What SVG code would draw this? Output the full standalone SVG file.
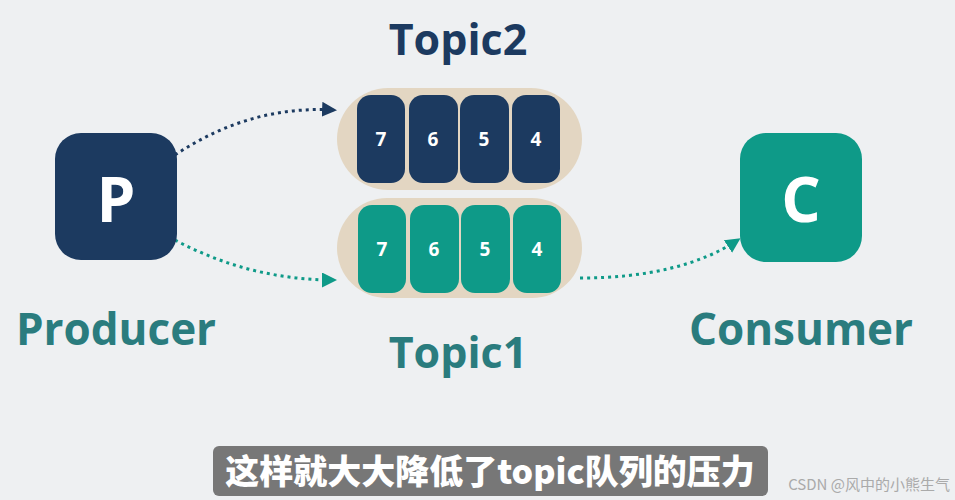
<svg xmlns="http://www.w3.org/2000/svg" width="955" height="500" viewBox="0 0 955 500">
<defs>
<style>
.lbl{font-family:"Open Sans","Noto Sans",sans-serif;font-weight:700;text-anchor:middle}
.num{font-family:"Open Sans",sans-serif;font-weight:700;font-size:19px;fill:#fff;text-anchor:middle}
.pill{fill:#e3d6c2}
.d{fill:#1c3a60}.t{fill:#0e9a88}
.con{fill:none;stroke-width:3;stroke-dasharray:3 4}
</style>
<marker id="ad" viewBox="0 0 10 10" refX="8" refY="5" markerWidth="5" markerHeight="5" orient="auto"><path d="M0,0L10,5L0,10z" fill="#1c3a60"/></marker>
<marker id="at" viewBox="0 0 10 10" refX="8" refY="5" markerWidth="5" markerHeight="5" orient="auto"><path d="M0,0L10,5L0,10z" fill="#0e9a88"/></marker>
</defs>
<rect width="955" height="500" fill="#eef0f2"/>
<g id="connectors">
<path class="con" stroke="#1c3a60" d="M175,155 Q250,105 334,110" marker-end="url(#ad)"/>
<path class="con" stroke="#0e9a88" d="M175,240 Q250,280 334,280" marker-end="url(#at)"/>
<path class="con" stroke="#0e9a88" d="M580,278 Q680,278 738,240" marker-end="url(#at)"/>
</g>
<g id="producer">
<rect class="d" x="55" y="133" width="122" height="127" rx="26"/>
<text class="lbl" x="116" y="222" font-size="62" fill="#fff">P</text>
<text class="lbl" x="116" y="345" font-size="44" fill="#2a7c7e">Producer</text>
</g>
<g id="consumer">
<rect class="t" x="740" y="133" width="122" height="129" rx="26"/>
<text class="lbl" x="801" y="222" font-size="62" fill="#fff">C</text>
<text class="lbl" x="801" y="345" font-size="44" fill="#2a7c7e">Consumer</text>
</g>
<g id="topic2">
<text class="lbl" x="458" y="55" font-size="43" fill="#1c3a60">Topic2</text>
<rect class="pill" x="337" y="88" width="245" height="102" rx="51"/>
<rect class="d" x="357" y="95" width="48" height="88" rx="14"/>
<rect class="d" x="409" y="95" width="49" height="88" rx="14"/>
<rect class="d" x="460" y="95" width="49" height="88" rx="14"/>
<rect class="d" x="512" y="95" width="48" height="88" rx="14"/>
<text class="num" x="381" y="146">7</text><text class="num" x="433" y="146">6</text><text class="num" x="484" y="146">5</text><text class="num" x="536" y="146">4</text>
</g>
<g id="topic1">
<text class="lbl" x="458" y="368" font-size="43" fill="#2a7c7e">Topic1</text>
<rect class="pill" x="337" y="198" width="245" height="100" rx="50"/>
<rect class="t" x="358" y="205" width="48" height="88" rx="14"/>
<rect class="t" x="410" y="205" width="49" height="88" rx="14"/>
<rect class="t" x="461" y="205" width="49" height="88" rx="14"/>
<rect class="t" x="513" y="205" width="48" height="88" rx="14"/>
<text class="num" x="382" y="256">7</text><text class="num" x="434" y="256">6</text><text class="num" x="485" y="256">5</text><text class="num" x="537" y="256">4</text>
</g>
<rect x="213" y="446" width="555" height="50" rx="6" fill="#777"/>
<text x="490" y="484" font-family="Noto Sans CJK SC,sans-serif" font-weight="900" font-size="34" fill="#fff" text-anchor="middle">这样就大大降低了topic队列的压力</text>
<text x="950" y="490" font-family="Noto Sans CJK SC,sans-serif" font-size="15" fill="#aaa" text-anchor="end">CSDN @风中的小熊生气</text>
</svg>
